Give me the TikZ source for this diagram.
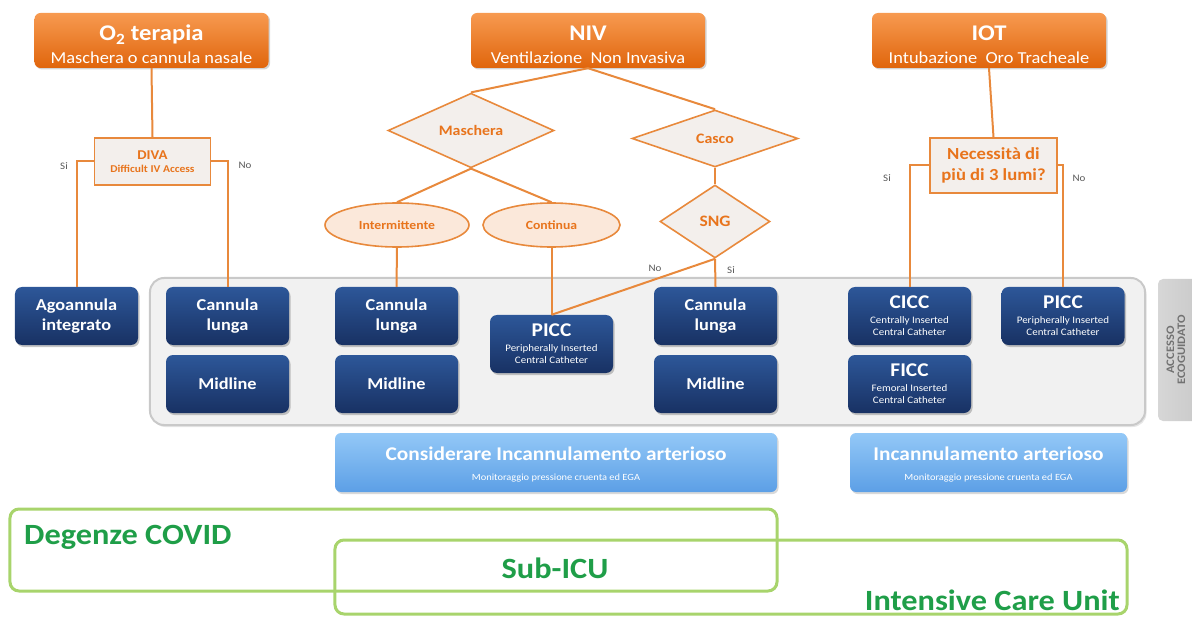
\documentclass[tikz,border=0pt]{standalone}
\usepackage{fontspec}
\setmainfont[FakeStretch=1.1]{Carlito}
\usetikzlibrary{shapes.geometric,shadows,calc}
\definecolor{orTop}{HTML}{F79A50}
\definecolor{orBot}{HTML}{E0650C}
\definecolor{orLine}{HTML}{E8893C}
\definecolor{orText}{HTML}{E8741C}
\definecolor{peach}{HTML}{FBE8DA}
\definecolor{decFill}{HTML}{F3EFEC}
\definecolor{blTop}{HTML}{2D5799}
\definecolor{blBot}{HTML}{183163}
\definecolor{lbTop}{HTML}{93C8F7}
\definecolor{lbBot}{HTML}{5C9FE6}
\definecolor{grFill}{HTML}{F1F1F1}
\definecolor{grLine}{HTML}{C9C9C9}
\definecolor{gnLine}{HTML}{A8D46C}
\definecolor{gnText}{HTML}{1F9E48}
\definecolor{lblGrey}{HTML}{595959}
\newcommand{\ttlfs}{\fontsize{22.5}{23}\selectfont\bfseries}
\newcommand{\subfs}{\fontsize{16.8}{23}\selectfont\mdseries}
\newcommand{\bigfs}{\fontsize{19.5}{12}\selectfont\bfseries}
\newcommand{\lbtfs}{\fontsize{19.5}{20}\selectfont\bfseries}
\newcommand{\lbsfs}{\fontsize{9.5}{20}\selectfont\mdseries}
\tikzset{
  orangebox/.style={rounded corners=6bp, top color=orTop, bottom color=orBot, draw=none,
    text=white, align=center, minimum width=234bp, minimum height=55bp, inner sep=0pt,
    font=\fontsize{16.8}{23}\selectfont,
    drop shadow={opacity=0.35, shadow xshift=1.5bp, shadow yshift=-1.5bp}},
  conn/.style={draw=orLine, line width=2bp},
  decbox/.style={fill=decFill, draw=orLine, line width=1.8bp, text=orText, align=center, inner sep=0pt},
  diam/.style={diamond, fill=decFill, draw=orLine, line width=1.6bp, text=orText, inner sep=0pt,
    font=\fontsize{14.5}{16}\selectfont\bfseries},
  ell/.style={ellipse, fill=peach, draw=orLine, line width=1.6bp, text=orText, inner sep=0pt,
    font=\fontsize{12.5}{14}\selectfont\bfseries},
  bluebox/.style={rounded corners=7bp, top color=blTop, bottom color=blBot, draw=none,
    text=white, align=center, minimum width=123bp, minimum height=58bp, inner sep=0pt,
    font=\fontsize{16.7}{20}\selectfont\bfseries,
    drop shadow={opacity=0.45, shadow xshift=1.5bp, shadow yshift=-2bp}},
  bluecat/.style={bluebox, font=\fontsize{10}{12}\selectfont},
  lightblue/.style={rounded corners=6bp, top color=lbTop, bottom color=lbBot, draw=none,
    text=white, align=center, minimum height=59bp, inner sep=0pt, font=\fontsize{9.5}{20}\selectfont,
    drop shadow={opacity=0.3, shadow xshift=1.5bp, shadow yshift=-2bp}},
  lbl/.style={text=lblGrey, font=\fontsize{10}{12}\selectfont, inner sep=0pt},
  zone/.style={draw=gnLine, line width=3bp, rounded corners=9bp},
  zonetext/.style={text=gnText, font=\fontsize{29.5}{32}\selectfont\bfseries, inner sep=0pt},
}
\begin{document}
\begin{tikzpicture}[x=1bp,y=-1bp]
\useasboundingbox (0,0) rectangle (1192,618);

% container and side tab
\node[draw=grLine, fill=grFill, line width=2bp, rounded corners=14bp, minimum width=995bp, minimum height=147bp,
  drop shadow={opacity=0.2, shadow xshift=1.5bp, shadow yshift=-2bp}] (cont) at (647.5,351.5) {};
\node[left color=grLine!75, right color=grLine, draw=none, rounded corners=5bp,
  minimum width=44bp, minimum height=142bp] (tab) at (1180,350) {};
\node[rotate=90, text=lblGrey!85, align=center, inner sep=0pt, font=\fontsize{11.5}{11}\selectfont\bfseries] (tabtxt) at (1176,350) {ACCESSO\\ECOGUIDATO};

% top boxes
\node[orangebox] (o2) at (151.5,40.5) {\rule{0pt}{24bp}\ttlfs O\textsubscript{2} terapia\\\subfs Maschera o cannula nasale};
\node[orangebox] (niv) at (588,40.5) {\rule{0pt}{24bp}\ttlfs NIV\\\subfs Ventilazione\ \ Non Invasiva};
\node[orangebox] (iot) at (989,40.5) {\rule{0pt}{24bp}\ttlfs IOT\\\subfs Intubazione\ \ Oro Tracheale};

% decision nodes
\node[decbox, minimum width=116bp, minimum height=47bp, font=\fontsize{10.5}{13}\selectfont\bfseries] (diva) at (152.5,161.5)
  {\fontsize{13.5}{13}\selectfont DIVA\\Difficult IV Access};
\node[decbox, minimum width=127bp, minimum height=55bp, font=\fontsize{17}{21}\selectfont\bfseries] (nec) at (993.5,165.5)
  {Necessità di\\più di 3 lumi?};
\node[diam, minimum width=166bp, minimum height=55bp] (masch) at (471,130.5) {Maschera};
\node[diam, minimum width=166bp, minimum height=57bp] (casco) at (715,138.5) {Casco};
\node[diam, minimum width=110bp, minimum height=73bp, font=\fontsize{16}{18}\selectfont\bfseries] (sng) at (715,221.5) {SNG};
\node[ell, minimum width=144bp, minimum height=44bp] (inter) at (397,225) {Intermittente};
\node[ell, minimum width=137bp, minimum height=44bp] (contn) at (551.5,225) {Continua};

% blue boxes
\node[bluebox] (ago) at (76.5,316) {Agoannula\\integrato};
\node[bluebox] (cl1) at (227.5,316) {Cannula\\lunga};
\node[bluebox] (md1) at (227.5,384) {Midline};
\node[bluebox] (cl2) at (396.5,316) {Cannula\\lunga};
\node[bluebox] (md2) at (396.5,384) {Midline};
\node[bluecat] (piccm) at (551.5,344) {\bigfs PICC\\[3bp]Peripherally Inserted\\Central Catheter};
\node[bluebox] (cl3) at (715.5,316) {Cannula\\lunga};
\node[bluebox] (md3) at (715.5,384) {Midline};
\node[bluecat] (cicc) at (909.5,316) {\bigfs CICC\\[3bp]Centrally Inserted\\Central Catheter};
\node[bluecat] (ficc) at (909.5,384) {\bigfs FICC\\[3bp]Femoral Inserted\\Central Catheter};
\node[bluecat] (piccr) at (1063,316) {\bigfs PICC\\[3bp]Peripherally Inserted\\Central Catheter};

% connectors
\draw[conn] (o2.south) -- (diva.north);
\draw[conn] (diva.west) -| (ago.north);
\draw[conn] (diva.east) -| (cl1.north);
\draw[conn] (niv.south) -- (masch.north);
\draw[conn] (niv.south) -- (casco.north);
\draw[conn] (masch.south) -- (inter.north);
\draw[conn] (masch.south) -- (contn.north);
\draw[conn] (inter.south) -- (cl2.north);
\draw[conn] (contn.south) -- (piccm.north);
\draw[conn] (casco.south) -- (sng.north);
\draw[conn] (sng.south) -- (piccm.north);
\draw[conn] (sng.south) -- (cl3.north);
\draw[conn] (iot.south) -- (nec.north);
\draw[conn] (nec.west) -| (cicc.north);
\draw[conn] (nec.east) -| (piccr.north);

% labels
\node[lbl] (siA) at (64,166) {Si};
\node[lbl] (noA) at (245,165) {No};
\node[lbl] (noB) at (655,268) {No};
\node[lbl] (siB) at (731,270) {Si};
\node[lbl] (siC) at (887,178) {Si};
\node[lbl] (noC) at (1079,178) {No};

% light blue boxes
\node[lightblue, minimum width=442bp] (cons) at (556,462.5)
  {\rule{0pt}{18bp}\lbtfs Considerare Incannulamento arterioso\\\lbsfs Monitoraggio pressione cruenta ed EGA};
\node[lightblue, minimum width=277bp] (inca) at (988.5,462.5)
  {\rule{0pt}{18bp}\lbtfs Incannulamento arterioso\\\lbsfs Monitoraggio pressione cruenta ed EGA};

% zones
\node[zone, minimum width=767bp, minimum height=82bp] (covid) at (393.5,550) {};
\node[zone, minimum width=792bp, minimum height=74bp] (icu) at (731,577) {};
\node[zonetext, anchor=west] (covidtxt) at (24,537) {Degenze COVID};
\node[zonetext] (subicu) at (555,568) {Sub-ICU};
\node[zonetext, anchor=east] (icutxt) at (1120,600) {Intensive Care Unit};
\end{tikzpicture}
\end{document}
